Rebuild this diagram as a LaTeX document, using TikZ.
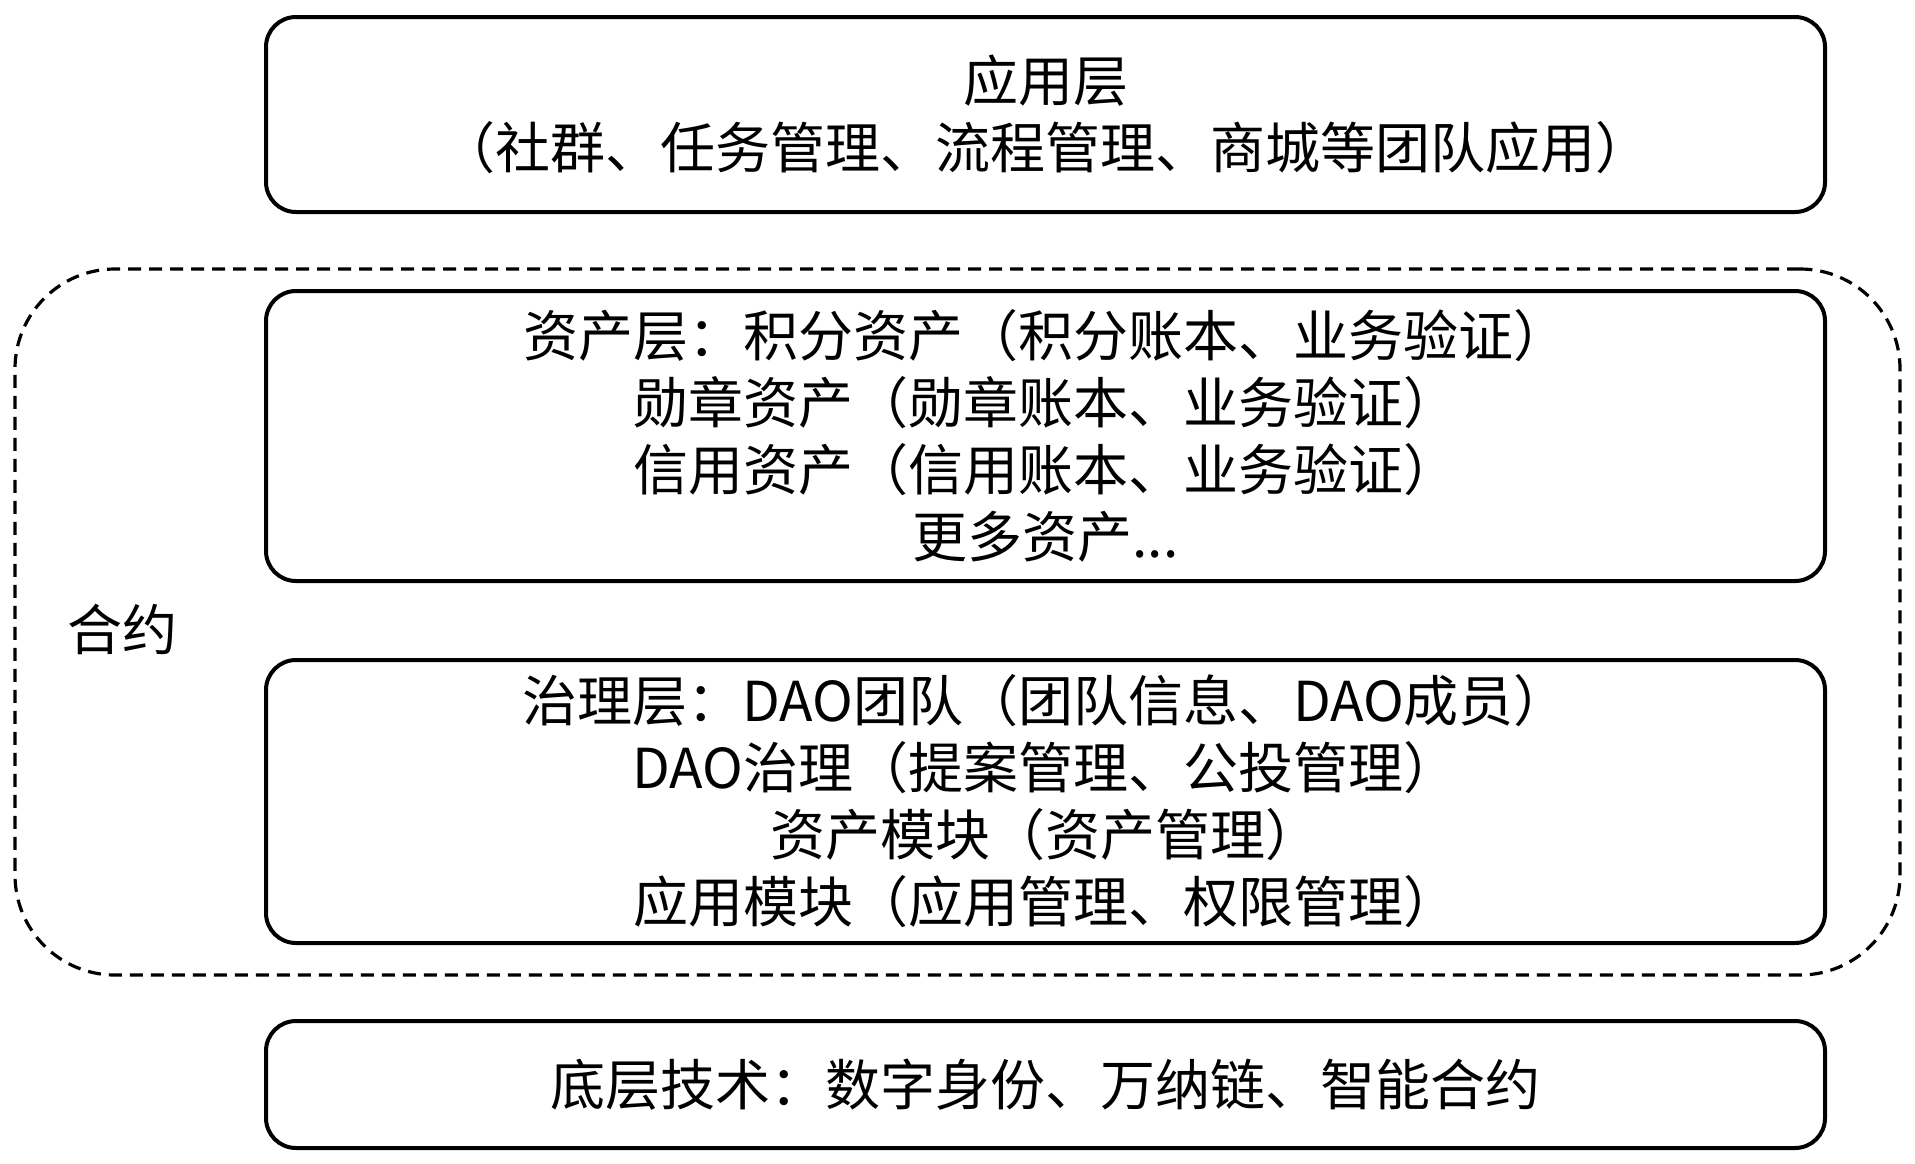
\documentclass[tikz,border=0pt]{standalone}
\usepackage{fontspec}
\setmainfont{Noto Sans CJK SC}
\begin{document}
\begin{tikzpicture}[x=0.5pt,y=-0.5pt,
    layerbox/.style={draw,line width=2pt,rounded corners=15pt,align=center,
      minimum width=779.5pt,inner sep=0pt,
      font=\fontsize{27.5pt}{33.5pt}\selectfont},
    contractbox/.style={draw,line width=1.6pt,dash pattern=on 6.5pt off 4pt,
      rounded corners=50pt,minimum width=942.5pt,minimum height=353pt,inner sep=0pt},
    plain/.style={font=\fontsize{27.5pt}{33.5pt}\selectfont}]
    \useasboundingbox (0,0) rectangle (1915,1163);
    % contract frame
    \node[contractbox] (contract) at (957.5,622) {};
    \node[plain] (contractlabel) at (122,629) {合约};
    % layers
    \node[layerbox,minimum height=97.5pt] (app) at (1045.5,114.5)
      {应用层\\（社群、任务管理、流程管理、商城等团队应用）};
    \node[layerbox,minimum height=145pt] (asset) at (1045.5,436)
      {资产层：积分资产（积分账本、业务验证）\\勋章资产（勋章账本、业务验证）\\信用资产（信用账本、业务验证）\\更多资产...};
    \node[layerbox,minimum height=141.5pt] (gov) at (1045.5,801.5)
      {治理层：DAO团队（团队信息、DAO成员）\\DAO治理（提案管理、公投管理）\\资产模块（资产管理）\\应用模块（应用管理、权限管理）};
    \node[layerbox,minimum height=63.5pt] (base) at (1045.5,1084.5)
      {底层技术：数字身份、万纳链、智能合约};
\end{tikzpicture}
\end{document}
